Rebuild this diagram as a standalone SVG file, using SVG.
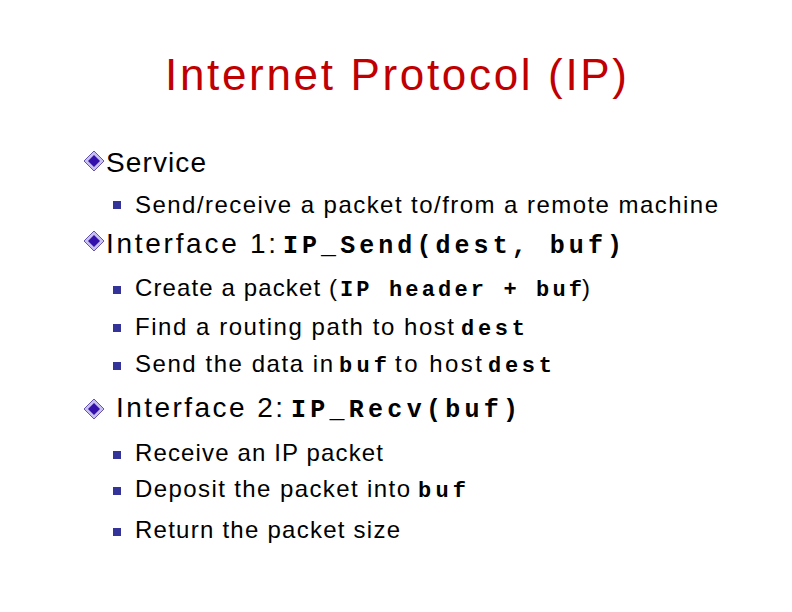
<svg xmlns="http://www.w3.org/2000/svg" width="792" height="612" viewBox="0 0 792 612">
<defs>
<style>
.t{font-family:"Liberation Sans",Arial,sans-serif;fill:#000}
.m{font-family:"Liberation Mono","Courier New",monospace;font-weight:bold}
.sq{fill:#333399}
</style>
<g id="dia"><polygon points="0,-10 10,0 0,10 -10,0" fill="#c8c0f0" stroke="#6655aa" stroke-width="1"/><polygon points="0,-6 6,0 0,6 -6,0" fill="#3311aa"/></g>
</defs>
<rect width="792" height="612" fill="#fff"/>
<text x="396" y="90" text-anchor="middle" font-family="Liberation Sans,Arial,sans-serif" font-size="44" fill="#c00000" textLength="462">Internet Protocol (IP)</text>
<use href="#dia" x="94" y="161"/>
<text class="t" x="106" y="172" font-size="28" textLength="100">Service</text>
<rect class="sq" x="113" y="201" width="8" height="8"/>
<text class="t" x="135" y="213" font-size="24" textLength="583">Send/receive a packet to/from a remote machine</text>
<use href="#dia" x="94" y="241"/>
<text class="t" x="106" y="253" font-size="28"><tspan textLength="170">Interface 1:</tspan> <tspan class="m" x="283" font-size="25" textLength="339">IP_Send(dest, buf)</tspan></text>
<rect class="sq" x="113" y="286" width="8" height="8"/>
<text class="t" x="135" y="296" font-size="24"><tspan textLength="202">Create a packet (</tspan><tspan class="m" font-size="22" x="340" textLength="242">IP header + buf</tspan><tspan x="582">)</tspan></text>
<rect class="sq" x="113" y="324" width="8" height="8"/>
<text class="t" x="135" y="335" font-size="24"><tspan textLength="319">Find a routing path to host</tspan><tspan class="m" font-size="22" x="461" textLength="64">dest</tspan></text>
<rect class="sq" x="113" y="362" width="8" height="8"/>
<text class="t" x="135" y="372" font-size="24"><tspan textLength="198">Send the data in</tspan><tspan class="m" font-size="22" x="339" textLength="48">buf</tspan><tspan x="395" textLength="87">to host</tspan><tspan class="m" font-size="22" x="488" textLength="64">dest</tspan></text>
<use href="#dia" x="94" y="409"/>
<text class="t" x="116" y="417" font-size="28"><tspan textLength="167">Interface 2:</tspan><tspan class="m" x="291" font-size="25" textLength="227">IP_Recv(buf)</tspan></text>
<rect class="sq" x="113" y="451" width="8" height="8"/>
<text class="t" x="135" y="461" font-size="24" textLength="248">Receive an IP packet</text>
<rect class="sq" x="113" y="487" width="8" height="8"/>
<text class="t" x="135" y="497" font-size="24"><tspan textLength="275">Deposit the packet into</tspan><tspan class="m" font-size="22" x="418" textLength="48">buf</tspan></text>
<rect class="sq" x="113" y="528" width="8" height="8"/>
<text class="t" x="135" y="538" font-size="24" textLength="265">Return the packet size</text>
</svg>
